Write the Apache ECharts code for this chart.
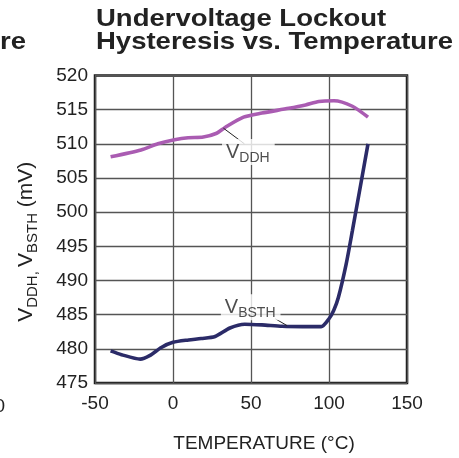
<!DOCTYPE html>
<html>
<head>
<meta charset="utf-8">
<script src="https://cdn.jsdelivr.net/npm/echarts@6/dist/echarts.min.js"></script>
<style>
html,body{margin:0;padding:0;background:#fff;}
#c{width:459px;height:458px;}
</style>
</head>
<body>
<div id="c"></div>
<script>
// ---- data ----
const tempVDDH = [-40, -20.5, -9.7, 1, 9.7, 19.4, 28, 33.4, 45.2, 57, 74.2, 85, 93.5, 103.2, 115, 125];
const valVDDH  = [508.1, 509.1, 510.0, 510.6, 510.9, 511.0, 511.55, 512.4, 513.9, 514.5, 515.2, 515.7, 516.2, 516.3, 515.5, 513.9];

const tempVBSTH = [-40, -33, -21, -15, -7.5, 0, 10, 18, 27, 36.5, 46, 57, 70, 83, 95, 100, 103, 106, 111, 115, 125];
const valVBSTH  = [479.7, 479.15, 478.5, 479.0, 480.2, 480.95, 481.3, 481.5, 481.8, 483.05, 483.6, 483.5, 483.3, 483.25, 483.25, 484.4, 485.6, 487.5, 492.4, 497.3, 510.0];

const xTicks = [-50, 0, 50, 100, 150];
const yTicks = [475, 480, 485, 490, 495, 500, 505, 510, 515, 520];

const titleLines = ['Undervoltage Lockout', 'Hysteresis vs. Temperature'];
const xName = 'TEMPERATURE (°C)';

const FONT = '"Liberation Sans", Arial, Helvetica, sans-serif';
const TXT = '#222';

function zip(a, b) { return a.map((v, i) => [v, b[i]]); }

const chart = echarts.init(document.getElementById('c'), null, {renderer: 'canvas'});

const subRich = {
  v: {fontSize: 20, fontFamily: FONT, color: TXT, lineHeight: 26, verticalAlign: 'middle'},
  s: {fontSize: 14, fontFamily: FONT, color: TXT, lineHeight: 14, verticalAlign: 'bottom'}
};
const nameRich = {
  v: {fontSize: 21, fontFamily: FONT, color: TXT, lineHeight: 27, verticalAlign: 'middle'},
  s: {fontSize: 15, fontFamily: FONT, color: TXT, lineHeight: 15, verticalAlign: 'bottom'}
};

const option = {
  animation: false,
  backgroundColor: '#fff',
  grid: {
    left: 95, right: 52, top: 75.5, bottom: 72.5,
    show: true, borderColor: '#1a1a1a', borderWidth: 2.5, backgroundColor: 'transparent'
  },
  xAxis: {
    type: 'value', min: xTicks[0], max: xTicks[xTicks.length - 1], interval: 50,
    name: xName, nameLocation: 'middle', nameGap: 51,
    nameTextStyle: {fontSize: 19, fontFamily: FONT, color: TXT, padding: [0, 0, 0, 26]},
    axisLine: {show: false},
    axisTick: {show: false},
    axisLabel: {fontSize: 19, fontFamily: FONT, color: TXT, margin: 11},
    splitLine: {show: true, lineStyle: {color: '#555', width: 1.3}}
  },
  yAxis: {
    type: 'value', min: yTicks[0], max: yTicks[yTicks.length - 1], interval: 5,
    name: '{v|V}{s|DDH, }{v|V}{s|BSTH}{v| (mV)}',
    nameLocation: 'middle', nameGap: 55,
    nameTextStyle: {rich: nameRich, padding: [0, 25, 0, 0]},
    axisLine: {show: false},
    axisTick: {show: false},
    axisLabel: {fontSize: 19, fontFamily: FONT, color: TXT, margin: 7},
    splitLine: {show: true, lineStyle: {color: '#555', width: 1.3}}
  },
  series: [
    {
      name: 'VDDH', type: 'line', data: zip(tempVDDH, valVDDH),
      showSymbol: false, smooth: 0.25,
      lineStyle: {color: '#aa5cb2', width: 3.6}, z: 3
    },
    {
      name: 'VBSTH', type: 'line', data: zip(tempVBSTH, valVBSTH),
      showSymbol: false, smooth: 0.25,
      lineStyle: {color: '#2b2b68', width: 3.6}, z: 3
    },
    {
      name: 'labels', type: 'scatter', symbolSize: 0, z: 5, silent: true,
      data: [
        {value: [48.3, 508.8], label: {formatter: '{v|V}{s|DDH}'}},
        {value: [49.8, 486.1], label: {formatter: '{v|V}{s|BSTH}'}}
      ],
      label: {
        show: true, position: 'inside', backgroundColor: '#fff',
        padding: [0, 5, 0, 4], rich: subRich
      },
      markLine: {
        silent: true, symbol: 'none', animation: false,
        label: {show: false},
        lineStyle: {color: '#222', width: 1, type: 'solid'},
        data: [
          [{coord: [32.3, 512.3]}, {coord: [45.8, 510.0]}],
          [{coord: [65.6, 484.4]}, {coord: [73.1, 483.4]}]
        ]
      }
    }
  ],
  graphic: [
    {type: 'text', x: 96, y: 19.5, scaleX: 1.17, silent: true,
     style: {text: titleLines[0], font: 'bold 23.5px ' + FONT, fill: TXT, verticalAlign: 'middle'}},
    {type: 'text', x: 96, y: 42.8, scaleX: 1.17, silent: true,
     style: {text: titleLines[1], font: 'bold 23.5px ' + FONT, fill: TXT, verticalAlign: 'middle'}},
    {type: 'text', x: 0, y: 42.8, scaleX: 1.17, silent: true,
     style: {text: 're', font: 'bold 23.5px ' + FONT, fill: TXT, verticalAlign: 'middle'}},
    {type: 'text', x: 5, y: 406.5, silent: true,
     style: {text: '0', font: '19px ' + FONT, fill: TXT, align: 'right', verticalAlign: 'middle'}}
  ]
};

chart.setOption(option);
</script>
</body>
</html>
